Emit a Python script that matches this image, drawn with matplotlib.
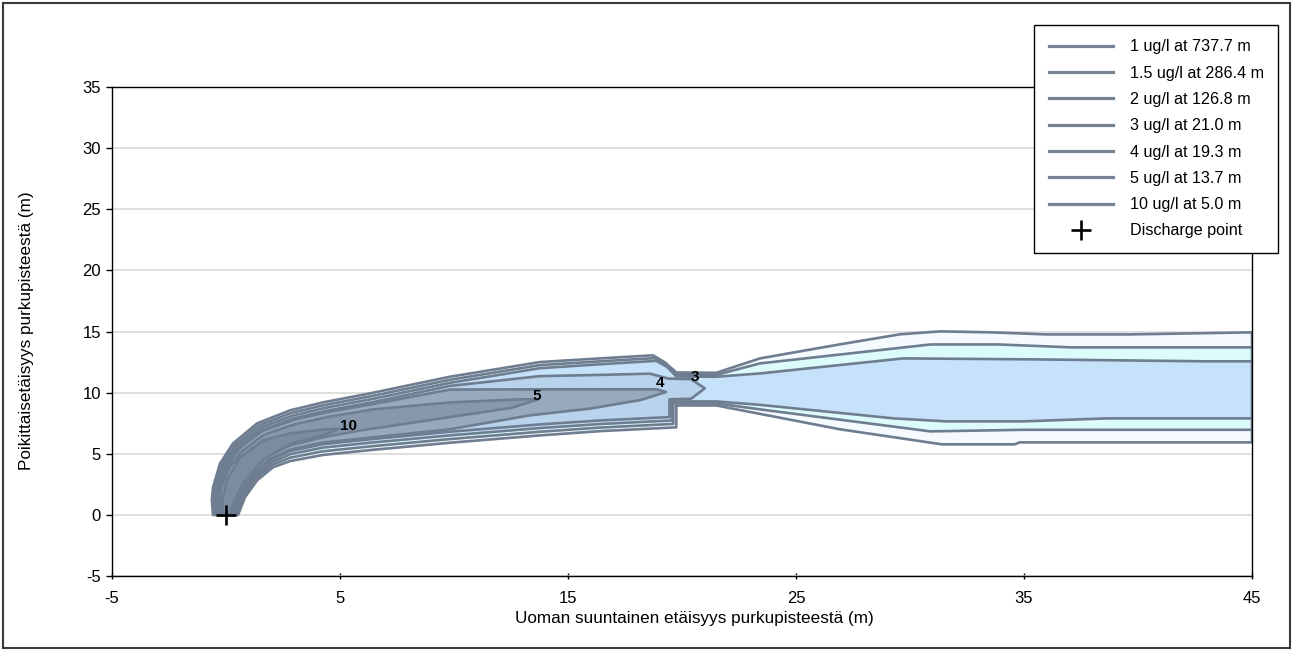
import matplotlib
matplotlib.use('Agg')
import matplotlib.pyplot as plt
from matplotlib.lines import Line2D
from matplotlib.patches import Rectangle

plt.rcParams['font.family'] = ['Liberation Sans', 'DejaVu Sans']

# ---------------- data ----------------
legend_labels = ['1 ug/l at 737.7 m', '1.5 ug/l at 286.4 m', '2 ug/l at 126.8 m',
                 '3 ug/l at 21.0 m', '4 ug/l at 19.3 m', '5 ug/l at 13.7 m',
                 '10 ug/l at 5.0 m']
x_ticks = [-5, 5, 15, 25, 35, 45]
y_ticks = [-5, 0, 5, 10, 15, 20, 25, 30, 35]

# contour 1 ug/l
c1_upper_x = [-0.57, -0.62, -0.57, -0.26, 0.31, 1.36, 2.81, 4.25, 6.32, 9.82, 13.77, 16.40, 18.73, 19.25, 19.75, 21.50, 23.42, 26.93, 29.56, 31.32, 33.60, 36.00, 39.60, 45.00]
c1_upper_y = [0.00, 1.20, 2.25, 4.21, 5.85, 7.48, 8.55, 9.20, 9.94, 11.30, 12.50, 12.80, 13.05, 12.47, 11.65, 11.62, 12.80, 13.95, 14.77, 15.01, 14.93, 14.76, 14.76, 14.93]
c1_lower_x = [0.53, 0.83, 1.36, 2.06, 2.81, 4.25, 6.32, 9.82, 13.77, 16.40, 19.75, 19.75, 21.50, 23.42, 26.93, 31.40, 34.60, 34.80, 45.00]
c1_lower_y = [0.00, 1.43, 2.82, 3.89, 4.40, 4.90, 5.30, 5.90, 6.50, 6.85, 7.16, 8.95, 8.95, 8.26, 7.00, 5.77, 5.77, 5.93, 5.93]

# contour 1.5 ug/l
c15_upper_x = [-0.50, -0.55, -0.50, -0.18, 0.40, 1.42, 2.85, 4.28, 6.34, 9.82, 13.77, 16.40, 18.80, 19.30, 19.75, 21.50, 23.42, 30.90, 33.90, 37.10, 45.00]
c15_upper_y = [0.00, 1.20, 2.25, 4.13, 5.74, 7.30, 8.33, 8.97, 9.70, 11.05, 12.25, 12.56, 12.82, 12.28, 11.48, 11.45, 12.39, 13.94, 13.94, 13.70, 13.70]
c15_lower_x = [0.46, 0.76, 1.30, 2.02, 2.81, 4.25, 6.32, 9.82, 13.77, 16.40, 19.62, 19.62, 21.50, 23.42, 30.90, 35.00, 45.00]
c15_lower_y = [0.00, 1.50, 2.95, 4.08, 4.68, 5.20, 5.60, 6.20, 6.80, 7.14, 7.44, 9.12, 9.12, 8.63, 6.83, 6.96, 6.96]

# contour 2 ug/l
c2_upper_x = [-0.43, -0.48, -0.43, -0.10, 0.48, 1.48, 2.90, 4.31, 6.36, 9.82, 13.77, 16.40, 18.87, 19.35, 19.75, 21.50, 23.42, 29.70, 35.40, 43.00, 45.00]
c2_upper_y = [0.00, 1.20, 2.25, 4.05, 5.63, 7.12, 8.11, 8.74, 9.46, 10.80, 12.00, 12.32, 12.60, 12.10, 11.32, 11.30, 11.57, 12.80, 12.72, 12.56, 12.56]
c2_lower_x = [0.40, 0.70, 1.25, 1.98, 2.81, 4.25, 6.32, 9.82, 13.77, 16.40, 19.55, 19.55, 21.50, 23.42, 29.30, 31.60, 35.00, 38.60, 45.00]
c2_lower_y = [0.00, 1.57, 3.08, 4.27, 4.96, 5.50, 5.90, 6.50, 7.10, 7.43, 7.72, 9.28, 9.28, 9.00, 7.89, 7.65, 7.65, 7.89, 7.89]

# contour 3 ug/l
c3_upper_x = [-0.36, -0.41, -0.36, -0.02, 0.56, 1.54, 2.95, 4.35, 6.38, 9.82, 13.77, 16.40, 18.60, 19.40, 20.40, 21.00]
c3_upper_y = [0.00, 1.20, 2.25, 3.97, 5.52, 6.94, 7.89, 8.50, 9.20, 10.55, 11.35, 11.45, 11.55, 11.15, 11.10, 10.35]
c3_lower_x = [0.33, 0.64, 1.20, 1.94, 2.81, 4.25, 6.32, 9.82, 13.77, 16.40, 19.45, 19.45, 20.40, 21.00]
c3_lower_y = [0.00, 1.64, 3.20, 4.45, 5.22, 5.78, 6.18, 6.80, 7.40, 7.72, 8.00, 9.45, 9.50, 10.35]

# contour 4 ug/l
c4_upper_x = [-0.30, -0.35, -0.30, 0.03, 0.60, 1.58, 2.98, 4.38, 6.40, 9.82, 13.77, 16.40, 18.90, 19.30]
c4_upper_y = [0.00, 1.20, 2.25, 3.92, 5.45, 6.85, 7.78, 8.38, 9.05, 10.25, 10.27, 10.27, 10.27, 10.05]
c4_lower_x = [0.28, 0.60, 1.16, 1.90, 2.81, 4.25, 6.32, 9.82, 13.33, 16.00, 18.20, 19.30]
c4_lower_y = [0.00, 1.69, 3.27, 4.55, 5.34, 5.92, 6.32, 7.00, 8.14, 8.70, 9.40, 10.05]

# contour 5 ug/l
c5_upper_x = [-0.20, -0.25, -0.20, 0.12, 0.70, 1.66, 3.05, 4.45, 6.42, 9.82, 12.90, 13.70]
c5_upper_y = [0.05, 1.20, 2.28, 3.80, 5.22, 6.56, 7.43, 8.00, 8.62, 9.20, 9.45, 9.45]
c5_lower_x = [0.20, 0.52, 1.08, 1.84, 2.81, 4.25, 5.88, 9.82, 12.50, 13.70]
c5_lower_y = [0.05, 1.85, 3.45, 4.80, 5.68, 6.35, 6.90, 8.00, 8.75, 9.45]

# contour 10 ug/l
c10_upper_x = [-0.14, -0.15, 0.04, 0.61, 1.62, 2.81, 4.30, 5.00]
c10_upper_y = [0.10, 1.19, 2.82, 4.70, 6.09, 6.67, 6.98, 7.05]
c10_lower_x = [0.14, 0.38, 0.75, 1.62, 2.81, 4.25, 5.00]
c10_lower_y = [0.10, 1.20, 2.60, 4.50, 5.80, 6.50, 7.05]

# contour labels
label_text = ['10', '5', '4', '3']
label_x = [5.39, 13.64, 19.04, 20.57]
label_y = [7.24, 9.69, 10.76, 11.25]

discharge_x = [0]
discharge_y = [0]

# ---------------- styling ----------------
line_color = '#6E7D8F'
fills = ['#F4FAFE', '#DCFBFB', '#C5E2FA', '#B9D3EC', '#97A9BD', '#8798AC', '#7A8CA0']

contours = [
    (c1_lower_x, c1_lower_y, c1_upper_x, c1_upper_y),
    (c15_lower_x, c15_lower_y, c15_upper_x, c15_upper_y),
    (c2_lower_x, c2_lower_y, c2_upper_x, c2_upper_y),
    (c3_lower_x, c3_lower_y, c3_upper_x, c3_upper_y),
    (c4_lower_x, c4_lower_y, c4_upper_x, c4_upper_y),
    (c5_lower_x, c5_lower_y, c5_upper_x, c5_upper_y),
    (c10_lower_x, c10_lower_y, c10_upper_x, c10_upper_y),
]

W, H = 1293, 652
fig = plt.figure(figsize=(W / 100, H / 100), dpi=100)
fig.patch.set_facecolor('white')
ax = fig.add_axes([112 / W, 1 - 576 / H, 1140 / W, 489 / H])

for (lx, ly, ux, uy), fc in zip(contours, fills):
    xs = list(lx) + list(ux)[::-1]
    ys = list(ly) + list(uy)[::-1]
    ax.fill(xs, ys, facecolor=fc, edgecolor=line_color, lw=1.9, zorder=2,
            joinstyle='round')

for t, x, y in zip(label_text, label_x, label_y):
    ax.text(x, y, t, fontsize=11, fontweight='bold', ha='center', va='center',
            color='black', zorder=4)

ax.plot(discharge_x, discharge_y, marker='+', ms=14, mew=1.9, color='black',
        ls='none', zorder=5, clip_on=False)

ax.set_xlim(-5, 45)
ax.set_ylim(-5, 35)
ax.set_xticks(x_ticks)
ax.set_yticks(y_ticks)
ax.set_xticklabels([str(v) for v in x_ticks])
ax.set_yticklabels([str(v) for v in y_ticks])
ax.yaxis.grid(True, color='#D9D9D9', lw=1.2)
ax.set_axisbelow(True)
ax.tick_params(axis='x', direction='inout', length=5, width=1, pad=8, labelsize=12)
ax.tick_params(axis='y', direction='out', length=4, width=1, pad=4, labelsize=12)
for s in ax.spines.values():
    s.set_color('black')
    s.set_linewidth(1.0)
    s.set_zorder(6)

fig.text(694 / W, 1 - 618 / H, 'Uoman suuntainen etäisyys purkupisteestä (m)',
         ha='center', va='center', fontsize=12.3)
fig.text(27 / W, 1 - 331 / H, 'Poikittaisetäisyys purkupisteestä (m)',
         ha='center', va='center', rotation=90, fontsize=12.3)

handles = [Line2D([0], [0], color='#768494', lw=2.3) for _ in legend_labels]
handles.append(Line2D([0], [0], color='black', marker='+', ms=14, mew=1.9, ls='none'))
labels = legend_labels + ['Discharge point']
leg = fig.legend(handles, labels, loc='upper left',
                 bbox_to_anchor=(1034 / W, 1 - 25 / H), borderaxespad=0,
                 frameon=True, fancybox=False, framealpha=1.0, fontsize=11.6,
                 handlelength=4.0, handletextpad=1.05, labelspacing=0.70,
                 borderpad=0.9)
leg.get_frame().set_edgecolor('black')
leg.get_frame().set_facecolor('white')
leg.get_frame().set_linewidth(1.0)
leg.set_zorder(10)

fig.add_artist(Rectangle((3 / W, 4 / H), 1287 / W, 645 / H, transform=fig.transFigure,
                         fill=False, edgecolor='#3A3A3A', lw=1.5))

fig.savefig('out.png', dpi=100, facecolor='white')
